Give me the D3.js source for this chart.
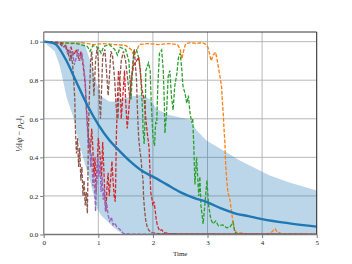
<!DOCTYPE html>
<html>
<head>
<meta charset="utf-8">
<script src="https://cdn.jsdelivr.net/npm/d3@7"></script>
<style>
  body { margin: 0; background: #fff; }
  text { font-family: "Liberation Serif", "DejaVu Serif", serif; }
</style>
</head>
<body>
<div id="chart"></div>
<script>
// mean distance over all trajectories
var meanT = [0, 0.2, 0.4, 0.6, 0.8, 1.0, 1.2, 1.4, 1.6, 1.8, 2.0, 2.25, 2.5, 2.75, 3.0, 3.25, 3.5, 3.75, 4.0, 4.5, 5.0];
var meanV = [1.0, 0.99, 0.91, 0.79, 0.67, 0.57, 0.49, 0.43, 0.375, 0.33, 0.30, 0.26, 0.22, 0.19, 0.167, 0.135, 0.11, 0.095, 0.08, 0.058, 0.041];

// shaded spread
var bandT = [0, 0.2, 0.3, 0.42, 0.54, 0.6, 0.72, 0.75, 0.85, 0.97, 1.05, 1.09, 1.2, 1.28, 1.4, 1.46, 1.6, 1.8, 1.95, 2.07, 2.3, 2.68, 2.8, 2.98, 3.29, 3.6, 4.14, 4.5, 5.0];
var bandLow = [1.0, 0.95, 0.87, 0.71, 0.61, 0.53, 0.40, 0.37, 0.28, 0.14, 0.1, 0.09, 0.06, 0.038, 0.01, 0.0, 0, 0, 0, 0, 0, 0, 0, 0, 0, 0, 0, 0, 0];
var bandHigh = [1.0, 1.0, 1.0, 1.0, 1.0, 1.0, 1.0, 0.99, 0.9, 0.78, 0.72, 0.71, 0.69, 0.69, 0.7, 0.705, 0.715, 0.725, 0.7, 0.65, 0.62, 0.595, 0.54, 0.487, 0.435, 0.383, 0.306, 0.27, 0.228];

// single trajectories, [time, distance]
var trajOrange = [[0,1.0],[0.3,0.995],[0.5,0.99],[0.7,0.995],[0.9,0.985],[1.1,0.99],[1.3,0.985],[1.5,0.98],[1.6,0.96],[1.65,0.93],[1.7,0.95],[1.75,0.985],[1.9,0.99],[2.1,0.985],[2.3,0.99],[2.45,0.985],[2.5,0.96],[2.53,0.91],[2.56,0.95],[2.6,0.99],[2.7,0.995],[2.8,0.99],[2.9,0.995],[2.97,0.985],[3.01,0.97],[3.05,0.92],[3.07,0.9],[3.1,0.93],[3.15,0.945],[3.18,0.9],[3.21,0.85],[3.24,0.8],[3.26,0.76],[3.27,0.7],[3.29,0.62],[3.3,0.56],[3.32,0.47],[3.33,0.38],[3.35,0.29],[3.37,0.23],[3.39,0.2],[3.41,0.18],[3.43,0.14],[3.45,0.1],[3.46,0.07],[3.49,0.03],[3.53,0.01],[3.7,0.005],[4.0,0.004],[4.15,0.006],[4.2,0.02],[4.24,0.03],[4.27,0.015],[4.35,0.005],[4.6,0.003],[5,0.002]];
var trajGreen = [[0,1.0],[0.3,0.995],[0.6,0.99],[0.8,0.975],[0.85,0.95],[0.9,0.98],[1.0,0.97],[1.05,0.94],[1.1,0.975],[1.2,0.985],[1.3,0.96],[1.35,0.93],[1.4,0.97],[1.5,0.96],[1.56,0.9],[1.58,0.8],[1.6,0.7],[1.62,0.82],[1.65,0.95],[1.7,0.957],[1.75,0.905],[1.78,0.80],[1.81,0.646],[1.82,0.54],[1.84,0.47],[1.86,0.63],[1.87,0.85],[1.92,0.89],[1.95,0.85],[1.97,0.68],[2.0,0.51],[2.03,0.46],[2.05,0.58],[2.07,0.577],[2.09,0.77],[2.12,0.94],[2.16,0.957],[2.19,0.85],[2.21,0.68],[2.22,0.525],[2.25,0.63],[2.28,0.82],[2.31,0.85],[2.34,0.715],[2.37,0.646],[2.4,0.77],[2.44,0.836],[2.47,0.92],[2.5,0.94],[2.53,0.855],[2.55,0.77],[2.59,0.73],[2.62,0.68],[2.65,0.72],[2.68,0.63],[2.71,0.58],[2.73,0.6],[2.75,0.45],[2.76,0.35],[2.77,0.26],[2.8,0.4],[2.82,0.3],[2.84,0.2],[2.86,0.3],[2.88,0.15],[2.92,0.055],[2.95,0.15],[2.99,0.28],[3.02,0.15],[3.06,0.08],[3.1,0.055],[3.15,0.07],[3.2,0.045],[3.28,0.05],[3.35,0.035],[3.41,0.038],[3.47,0.064],[3.5,0.012],[3.55,0.003],[4,0.002],[5,0.001]];
var trajRed = [[0,1.0],[0.3,0.995],[0.4,0.98],[0.45,0.95],[0.5,0.97],[0.55,0.93],[0.6,0.96],[0.65,0.9],[0.68,0.95],[0.72,0.88],[0.76,0.78],[0.79,0.62],[0.82,0.5],[0.85,0.42],[0.88,0.55],[0.9,0.45],[0.92,0.3],[0.94,0.4],[0.96,0.22],[0.98,0.35],[1.0,0.5],[1.03,0.42],[1.06,0.3],[1.08,0.48],[1.1,0.35],[1.12,0.2],[1.14,0.12],[1.16,0.25],[1.18,0.32],[1.2,0.2],[1.23,0.3],[1.25,0.38],[1.27,0.28],[1.29,0.2],[1.31,0.17],[1.32,0.3],[1.33,0.5],[1.35,0.7],[1.37,0.85],[1.4,0.78],[1.42,0.6],[1.45,0.72],[1.48,0.85],[1.5,0.7],[1.53,0.55],[1.56,0.65],[1.6,0.8],[1.65,0.88],[1.7,0.9],[1.74,0.92],[1.77,0.85],[1.8,0.75],[1.84,0.7],[1.87,0.6],[1.9,0.52],[1.93,0.45],[1.95,0.3],[1.96,0.22],[1.98,0.19],[2.0,0.15],[2.02,0.17],[2.04,0.13],[2.06,0.08],[2.08,0.05],[2.12,0.02],[2.16,0.025],[2.2,0.01],[2.3,0.005],[2.5,0.003],[5,0.001]];
var trajPurple = [[0,1.0],[0.2,0.995],[0.3,0.99],[0.4,0.97],[0.45,0.93],[0.48,0.96],[0.5,0.9],[0.53,0.95],[0.56,0.88],[0.6,0.92],[0.63,0.96],[0.66,0.9],[0.7,0.94],[0.73,0.88],[0.76,0.8],[0.78,0.65],[0.8,0.55],[0.82,0.45],[0.84,0.5],[0.86,0.35],[0.88,0.42],[0.9,0.25],[0.92,0.32],[0.95,0.12],[0.97,0.28],[0.99,0.4],[1.01,0.3],[1.03,0.38],[1.05,0.22],[1.07,0.3],[1.09,0.18],[1.11,0.24],[1.13,0.12],[1.15,0.17],[1.18,0.1],[1.21,0.07],[1.24,0.09],[1.27,0.05],[1.3,0.06],[1.34,0.04],[1.38,0.03],[1.42,0.02],[1.46,0.005],[1.6,0.002],[5,0.001]];
var trajBrown = [[0,1.0],[0.2,0.995],[0.3,0.99],[0.35,0.97],[0.4,0.98],[0.45,0.94],[0.48,0.9],[0.5,0.95],[0.53,0.88],[0.55,0.8],[0.57,0.7],[0.58,0.55],[0.6,0.42],[0.62,0.5],[0.64,0.35],[0.66,0.45],[0.68,0.28],[0.7,0.35],[0.72,0.2],[0.74,0.28],[0.76,0.15],[0.78,0.22],[0.8,0.11],[0.81,0.3],[0.82,0.55],[0.84,0.75],[0.86,0.9],[0.88,0.95],[0.9,0.85],[0.92,0.72],[0.95,0.9],[0.98,0.97],[1.0,0.9],[1.02,0.7],[1.04,0.6],[1.06,0.75],[1.08,0.92],[1.12,0.96],[1.15,0.85],[1.18,0.72],[1.2,0.8],[1.23,0.95],[1.26,0.93],[1.3,0.8],[1.33,0.65],[1.36,0.6],[1.38,0.75],[1.42,0.9],[1.46,0.95],[1.5,0.9],[1.54,0.8],[1.58,0.7],[1.62,0.85],[1.66,0.96],[1.7,0.8],[1.72,0.62],[1.74,0.5],[1.76,0.44],[1.78,0.4],[1.8,0.33],[1.82,0.28],[1.83,0.19],[1.85,0.12],[1.87,0.07],[1.9,0.035],[1.93,0.02],[1.98,0.01],[2.1,0.004],[5,0.002]];

var xTicks = [0, 1, 2, 3, 4, 5];
var yTicks = [0.0, 0.2, 0.4, 0.6, 0.8, 1.0];

var margin = { top: 32, right: 35.3, bottom: 29.5, left: 43.7 };
var width = 352 - margin.left - margin.right,
    height = 264 - margin.top - margin.bottom;

var svg = d3.select("#chart").append("svg")
    .attr("width", 352)
    .attr("height", 264)
    .append("g")
    .attr("transform", "translate(" + margin.left + "," + margin.top + ")");

var x = d3.scaleLinear().domain([0, 5]).range([0, width]);
var y = d3.scaleLinear().domain([0, 1.05]).range([height, 0]);

svg.append("clipPath").attr("id", "clip")
    .append("rect").attr("width", width).attr("height", height);

//grid
svg.append("g").selectAll("line").data(xTicks).enter().append("line")
    .attr("x1", function (d) { return x(d); }).attr("x2", function (d) { return x(d); })
    .attr("y1", 0).attr("y2", height)
    .attr("stroke", "#b0b0b0").attr("stroke-width", 0.9);
svg.append("g").selectAll("line").data(yTicks).enter().append("line")
    .attr("y1", function (d) { return y(d); }).attr("y2", function (d) { return y(d); })
    .attr("x1", 0).attr("x2", width)
    .attr("stroke", "#b0b0b0").attr("stroke-width", 0.9);

var plot = svg.append("g").attr("clip-path", "url(#clip)");

//spread band
var area = d3.area()
    .x(function (d, i) { return x(bandT[i]); })
    .y0(function (d, i) { return y(bandLow[i]); })
    .y1(function (d, i) { return y(bandHigh[i]); });
plot.append("path")
    .datum(bandT)
    .attr("d", area)
    .attr("fill", "#1f77b4")
    .attr("fill-opacity", 0.3);

//dashed trajectories
var line = d3.line()
    .x(function (d) { return x(d[0]); })
    .y(function (d) { return y(d[1]); });
var trajectories = [
    { pts: trajOrange, color: "#ff7f0e" },
    { pts: trajGreen, color: "#2ca02c" },
    { pts: trajRed, color: "#d62728" },
    { pts: trajPurple, color: "#9467bd" },
    { pts: trajBrown, color: "#8c564b" }
];
plot.selectAll(".traj")
    .data(trajectories)
    .enter()
    .append("path")
    .attr("class", "traj")
    .attr("d", function (d) { return line(d.pts); })
    .attr("fill", "none")
    .attr("stroke", function (d) { return d.color; })
    .attr("stroke-width", 1.3)
    .attr("stroke-dasharray", "3.8,1.6");

//mean line on top
var meanLine = d3.line()
    .x(function (d, i) { return x(meanT[i]); })
    .y(function (d, i) { return y(meanV[i]); })
    .curve(d3.curveMonotoneX);
plot.append("path")
    .datum(meanT)
    .attr("d", meanLine)
    .attr("fill", "none")
    .attr("stroke", "#1f77b4")
    .attr("stroke-width", 2.4);

//axes
var xAxis = d3.axisBottom(x).tickValues(xTicks).tickSize(3.5).tickPadding(2).tickFormat(d3.format("d"));
var yAxis = d3.axisLeft(y).tickValues(yTicks).tickSize(3.5).tickPadding(2).tickFormat(d3.format(".1f"));

var gx = svg.append("g").attr("transform", "translate(0," + height + ")").call(xAxis);
var gy = svg.append("g").call(yAxis);
[gx, gy].forEach(function (g) {
    g.select(".domain").remove();
    g.selectAll("line").attr("stroke", "#555").attr("stroke-width", 0.8);
    g.selectAll("text").attr("font-size", 7).attr("fill", "#222")
        .style("font-family", "'Liberation Serif', serif");
});

//spines
svg.append("line").attr("x1", 0).attr("x2", width).attr("y1", 0).attr("y2", 0)
    .attr("stroke", "#222").attr("stroke-width", 0.9);
svg.append("line").attr("x1", width).attr("x2", width).attr("y1", 0).attr("y2", height)
    .attr("stroke", "#222").attr("stroke-width", 0.9);
svg.append("line").attr("x1", 0).attr("x2", 0).attr("y1", 0).attr("y2", height)
    .attr("stroke", "#888").attr("stroke-width", 1.3);
svg.append("line").attr("x1", 0).attr("x2", width).attr("y1", height).attr("y2", height)
    .attr("stroke", "#777").attr("stroke-width", 1.3);

//labels
svg.append("text")
    .attr("x", width / 2).attr("y", height + 21)
    .attr("text-anchor", "middle").attr("font-size", 7).attr("fill", "#222")
    .text("Time");

var yl = svg.append("text")
    .attr("transform", "translate(" + (22 - margin.left) + "," + (height / 2) + ") rotate(-90)")
    .attr("text-anchor", "middle").attr("font-size", 8.5).attr("fill", "#222");
yl.append("tspan").text("½‖");
yl.append("tspan").attr("font-style", "italic").text("ψ");
yl.append("tspan").text(" − ");
yl.append("tspan").attr("font-style", "italic").text("ρ");
yl.append("tspan").attr("font-style", "italic").attr("font-size", 6).attr("dy", 1.8).text("C");
yl.append("tspan").attr("dy", -1.8).text("‖");
yl.append("tspan").attr("font-size", 6).attr("dy", 1.8).text("1");
</script>
</body>
</html>
